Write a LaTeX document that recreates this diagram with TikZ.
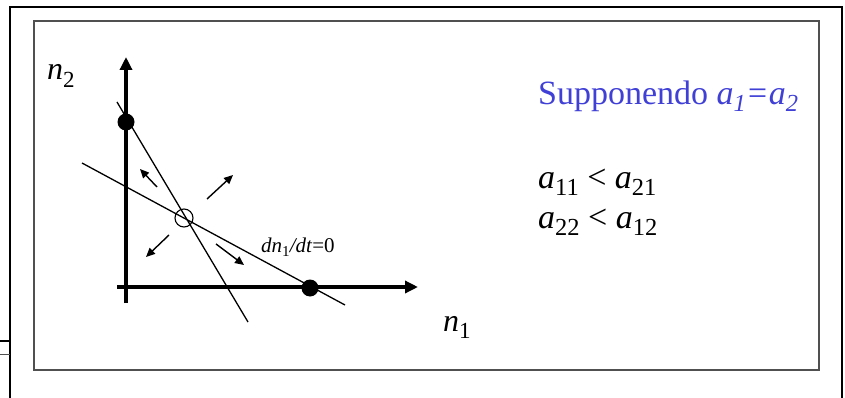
\documentclass[tikz,border=0pt]{standalone}
\usepackage{fontspec}
\setmainfont{Liberation Serif}
\usetikzlibrary{arrows.meta}
\definecolor{supblue}{RGB}{64,64,214}
\definecolor{boxgray}{RGB}{80,80,80}
\newcommand\mysub[1]{\raisebox{-0.22em}{\scalebox{0.72}{#1}}}
\tikzset{
  frameline/.style={line width=2.4pt,black},
  boxline/.style={line width=1.5pt,boxgray},
  axisline/.style={line width=4pt,-{Triangle[length=13pt,width=12pt]}},
  nullcline/.style={line width=1.3pt},
  flowarrow/.style={line width=1.4pt,-{Triangle[length=9pt,width=8pt]}},
  eqdot/.style={circle,fill=black,inner sep=0pt,minimum size=17pt},
  opendot/.style={circle,draw=black,line width=1.1pt,inner sep=0pt,minimum size=18pt},
  axlabel/.style={font=\fontsize{32}{38}\selectfont\itshape,inner sep=0pt,anchor=base west},
  bigtext/.style={font=\fontsize{34}{40}\selectfont,inner sep=0pt,anchor=base west},
}
\begin{document}
\begin{tikzpicture}[x=1pt,y=-1pt]
\useasboundingbox (0,0) rectangle (845,398);
% frames
\coordinate (fbl) at (10,398);
\coordinate (ftl) at (10,7);
\coordinate (ftr) at (842,7);
\coordinate (fbr) at (842,398);
\draw[frameline] (fbl) -- (ftl) -- (ftr) -- (fbr);
\coordinate (b1) at (34,21);
\coordinate (b2) at (819,370);
\draw[boxline] (b1) rectangle (b2);
\coordinate (t1a) at (0,341); \coordinate (t1b) at (10,341);
\coordinate (t2a) at (0,354); \coordinate (t2b) at (10,354);
\draw[line width=2pt] (t1a) -- (t1b);
\draw[line width=1pt,boxgray] (t2a) -- (t2b);
% axes
\coordinate (vbot) at (126,303);
\coordinate (vtop) at (126,57);
\coordinate (hleft) at (117,287);
\coordinate (hright) at (418,287);
\draw[axisline] (vbot) -- (vtop);
\draw[axisline] (hleft) -- (hright);
% nullclines
\coordinate (l1a) at (117,102);
\coordinate (l1b) at (248,322);
\coordinate (l2a) at (82,163);
\coordinate (l2b) at (345,305);
\draw[nullcline] (l1a) -- (l1b);
\draw[nullcline] (l2a) -- (l2b);
% equilibria
\node[eqdot] (e1) at (126,122) {};
\node[eqdot] (e2) at (310,288) {};
\node[opendot] (e0) at (184,218) {};
% flow arrows
\coordinate (f1a) at (157,187); \coordinate (f1b) at (140,169);
\coordinate (f2a) at (207,199); \coordinate (f2b) at (233,175);
\coordinate (f3a) at (169,235); \coordinate (f3b) at (146,257);
\coordinate (f4a) at (216,244); \coordinate (f4b) at (244,265);
\draw[flowarrow] (f1a) -- (f1b);
\draw[flowarrow] (f2a) -- (f2b);
\draw[flowarrow] (f3a) -- (f3b);
\draw[flowarrow] (f4a) -- (f4b);
% labels
\node[font=\fontsize{21}{25}\selectfont,inner sep=0pt,anchor=base west] (nl) at (261,252)
  {\textit{dn}\mysub{1}\textit{/dt}=0};
\node[axlabel] (n2) at (47,80) {n\mysub{\upshape 2}};
\node[axlabel] (n1) at (443,331) {n\mysub{\upshape 1}};
\node[bigtext,text=supblue] (sup) at (538,104.5) {Supponendo \textit{a\mysub{1}=a\mysub{2}}};
\node[bigtext] (c1) at (538,188) {\textit{a}\mysub{11} < \textit{a}\mysub{21}};
\node[bigtext] (c2) at (538,228) {\textit{a}\mysub{22} < \textit{a}\mysub{12}};
\end{tikzpicture}
\end{document}
